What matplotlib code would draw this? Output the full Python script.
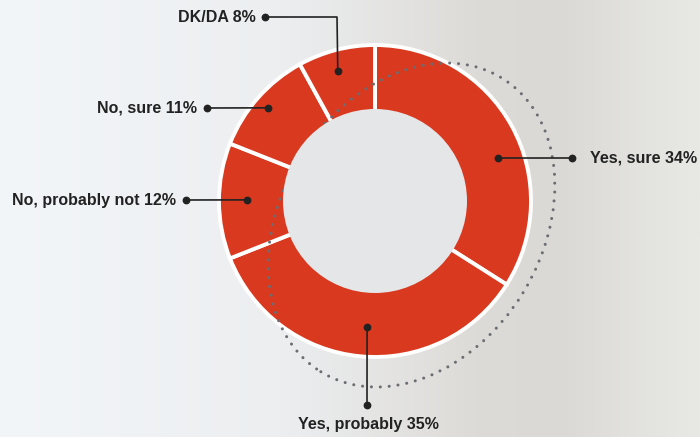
import numpy as np
import matplotlib.pyplot as plt
from matplotlib.colors import LinearSegmentedColormap
from matplotlib.patches import Circle, Ellipse

labels = ["Yes, sure", "Yes, probably", "No, probably not", "No, sure", "DK/DA"]
shares = [34, 35, 12, 11, 8]

W, H = 700, 437
RED = "#d9391f"
INK = "#222222"

fig = plt.figure(figsize=(7, 4.37), dpi=100)
ax = fig.add_axes([0, 0, 1, 1])

# background: cool white on the left fading to warm grey on the right
bg = LinearSegmentedColormap.from_list(
    "bg",
    [(0.0, "#f3f6f9"), (0.40, "#eceef0"), (0.68, "#dddbd7"),
     (0.80, "#dbd9d5"), (1.0, "#e8e9e5")],
)
ax.imshow(np.linspace(0, 1, 256)[None, :], cmap=bg, aspect="auto",
          extent=(0, W, 0, H), zorder=0)

cx, cy, r_out, r_in = 375, 236, 156, 92
wedges, _ = ax.pie(
    shares, startangle=90, counterclock=False, center=(cx, cy),
    radius=r_out, colors=[RED] * len(shares),
    wedgeprops=dict(edgecolor="white", linewidth=2.8), frame=True,
)
for w in wedges:
    w.set_zorder(1)

# dotted tilted ring behind the hole
ax.add_patch(Ellipse((411.5, 212), 261, 345, angle=-31.7, fill=False,
                     edgecolor="#6a6d72", linewidth=2.2,
                     linestyle=(0, (0.01, 2.9)), capstyle="round", zorder=2))
ax.add_patch(Circle((cx, cy), r_in, facecolor="#e5e6e8", edgecolor="none", zorder=3))

# leader lines: ring point (angle, radius), then path to the label
leader_ang = [19.3, -93.6, 179.5, 139, 106]
leader_rad = [130, 126, 128, 142, 135]
leader_paths = [
    [(572, 279)],
    [(367, 32)],
    [(186, 237)],
    [(207, 329)],
    [(337, 420), (265, 420)],
]
text_pos = [(590, 279, "left", "center"), (368, 12, "center", "center"),
            (176, 237, "right", "center"), (197, 329, "right", "center"),
            (256, 420, "right", "center")]

for lab, val, a, rr, path, (tx, ty, ha, va) in zip(
        labels, shares, leader_ang, leader_rad, leader_paths, text_pos):
    x0 = cx + rr * np.cos(np.radians(a))
    y0 = cy + rr * np.sin(np.radians(a))
    xs = [x0] + [p[0] for p in path]
    ys = [y0] + [p[1] for p in path]
    ax.plot(xs, ys, color=INK, linewidth=1.2, zorder=4)
    ax.plot([xs[0], xs[-1]], [ys[0], ys[-1]], linestyle="none", marker="o",
            markersize=4.6, color=INK, zorder=5)
    ax.text(tx, ty, f"{lab} {val}%", ha=ha, va=va, fontsize=11.5,
            fontweight="bold", color=INK, family=["Liberation Sans", "DejaVu Sans"],
            zorder=5)

ax.set_xlim(0, W)
ax.set_ylim(0, H)
ax.set_aspect("auto")
ax.axis("off")

fig.savefig("out.png", dpi=100)
